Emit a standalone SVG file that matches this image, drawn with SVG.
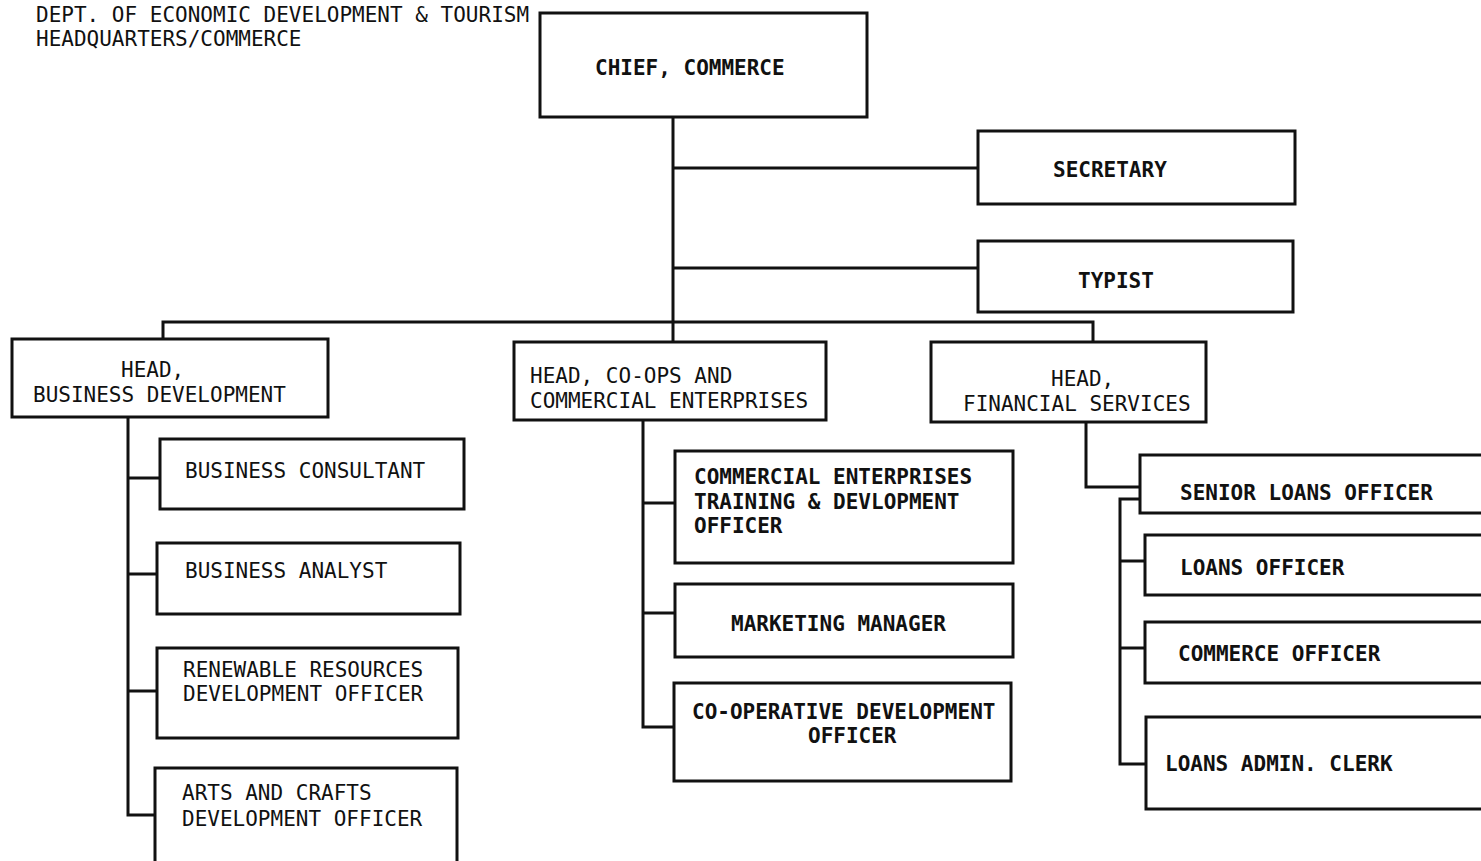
<svg xmlns="http://www.w3.org/2000/svg" width="1481" height="861" viewBox="0 0 1481 861">
<style>
text{font-family:"DejaVu Sans Mono","Liberation Mono",monospace;font-size:21px;fill:#111}
.b{font-weight:bold}
rect{fill:#fff;stroke:#111;stroke-width:3}
#connectors path{fill:none;stroke:#111;stroke-width:3}
</style>
<rect x="0" y="0" width="1481" height="861" style="stroke:none;fill:#fff"/>
<g id="title">
<text x="36" y="22">DEPT. OF ECONOMIC DEVELOPMENT &amp; TOURISM</text>
<text x="36" y="46">HEADQUARTERS/COMMERCE</text>
</g>
<g id="connectors">
<path d="M673 117V342"/>
<path d="M673 168H978"/>
<path d="M673 268H978"/>
<path d="M163 339V322H1093V342"/>
<path d="M128 417V815H155"/>
<path d="M128 478H160"/>
<path d="M128 574H157"/>
<path d="M128 691H157"/>
<path d="M643 420V727H674"/>
<path d="M643 503H675"/>
<path d="M643 613H675"/>
<path d="M1086 422V487H1140"/>
<path d="M1140 499H1120V764H1146"/>
<path d="M1120 561H1145"/>
<path d="M1120 648H1145"/>
</g>
<g id="chief"><rect x="540" y="13" width="327" height="104"/><text class="b" x="595" y="75">CHIEF, COMMERCE</text></g>
<g id="secretary"><rect x="978" y="131" width="317" height="73"/><text class="b" x="1053" y="177">SECRETARY</text></g>
<g id="typist"><rect x="978" y="241" width="315" height="71"/><text class="b" x="1078" y="288">TYPIST</text></g>
<g id="head-bd"><rect x="12" y="339" width="316" height="78"/><text x="121" y="377">HEAD,</text><text x="33" y="402">BUSINESS DEVELOPMENT</text></g>
<g id="head-coops"><rect x="514" y="342" width="312" height="78"/><text x="530" y="383">HEAD, CO-OPS AND</text><text x="530" y="408">COMMERCIAL ENTERPRISES</text></g>
<g id="head-fin"><rect x="931" y="342" width="275" height="80"/><text x="1051" y="386">HEAD,</text><text x="963" y="411">FINANCIAL SERVICES</text></g>
<g id="business-consultant"><rect x="160" y="439" width="304" height="70"/><text x="185" y="478">BUSINESS CONSULTANT</text></g>
<g id="business-analyst"><rect x="157" y="543" width="303" height="71"/><text x="185" y="578">BUSINESS ANALYST</text></g>
<g id="renewable"><rect x="157" y="648" width="301" height="90"/><text x="183" y="677">RENEWABLE RESOURCES</text><text x="183" y="701">DEVELOPMENT OFFICER</text></g>
<g id="arts"><rect x="155" y="768" width="302" height="110"/><text x="182" y="800">ARTS AND CRAFTS</text><text x="182" y="826">DEVELOPMENT OFFICER</text></g>
<g id="commercial-enterprises"><rect x="675" y="451" width="338" height="112"/><text class="b" x="694" y="484">COMMERCIAL ENTERPRISES</text><text class="b" x="694" y="509">TRAINING &amp; DEVLOPMENT</text><text class="b" x="694" y="533">OFFICER</text></g>
<g id="marketing"><rect x="675" y="584" width="338" height="73"/><text class="b" x="731" y="631">MARKETING MANAGER</text></g>
<g id="coop-dev"><rect x="674" y="683" width="337" height="98"/><text class="b" x="692" y="719">CO-OPERATIVE DEVELOPMENT</text><text class="b" x="808" y="743">OFFICER</text></g>
<g id="senior-loans"><rect x="1140" y="455" width="360" height="58"/><text class="b" x="1180" y="500">SENIOR LOANS OFFICER</text></g>
<g id="loans-officer"><rect x="1145" y="535" width="355" height="60"/><text class="b" x="1180" y="575">LOANS OFFICER</text></g>
<g id="commerce-officer"><rect x="1145" y="622" width="355" height="61"/><text class="b" x="1178" y="661">COMMERCE OFFICER</text></g>
<g id="loans-admin"><rect x="1146" y="717" width="354" height="92"/><text class="b" x="1165" y="771">LOANS ADMIN. CLERK</text></g>
</svg>
